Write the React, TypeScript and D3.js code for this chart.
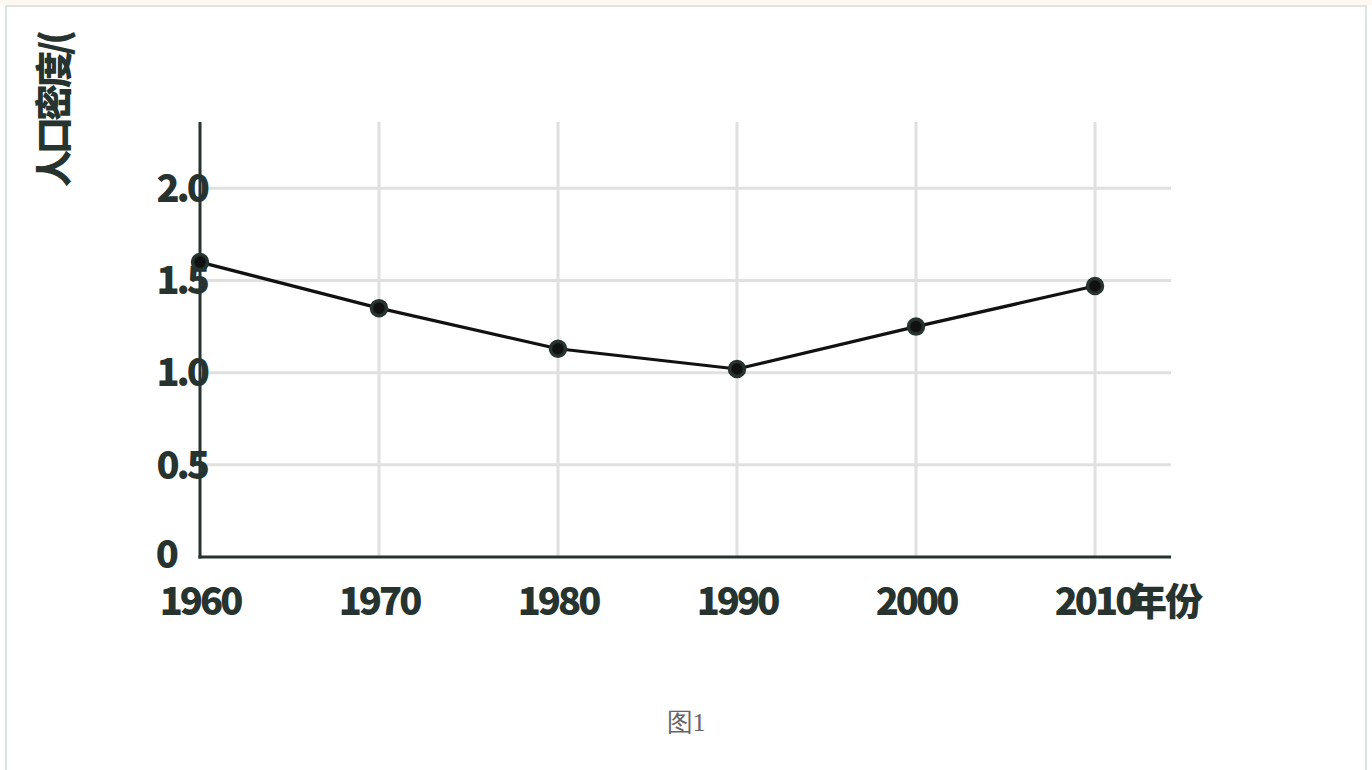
import { scaleLinear, line } from "d3";

const years = [1960, 1970, 1980, 1990, 2000, 2010];
const density = [1.6, 1.35, 1.13, 1.02, 1.25, 1.47];
const yTicks = [0, 0.5, 1.0, 1.5, 2.0];
const yTickLabels = ["0", "0.5", "1.0", "1.5", "2.0"];
const yTitle = "人口密度/(";
const xUnit = "年份";
const caption = "图1";

const dark = "#26332e";
const grid = "#e0e0e0";
const labelFont = "'Noto Sans CJK SC', 'Noto Sans', sans-serif";

export default function App() {
  const width = 1372;
  const height = 770;
  const x = scaleLinear().domain([1960, 2010]).range([200, 1095]);
  const y = scaleLinear().domain([0, 2.36]).range([557, 122]);
  const xEnd = x(2014.25);
  const path = line<number>()
    .x((_, i) => x(years[i]))
    .y((d) => y(d))(density);

  return (
    <>
      <style>{"body{margin:0}"}</style>
      <svg width={width} height={height} style={{ display: "block", background: "#fff" }}>
        <rect x={0} y={0} width={width} height={5} fill="#fdf9f0" />
        <rect x={6} y={6} width={width - 12} height={height + 10} fill="#fff" stroke="#dbe5e1" strokeWidth={2} />

        {yTicks.filter((t) => t > 0).map((t) => (
          <line key={t} x1={x(1960)} x2={xEnd} y1={y(t)} y2={y(t)} stroke={grid} strokeWidth={3} />
        ))}
        {years.slice(1).map((yr) => (
          <line key={yr} x1={x(yr)} x2={x(yr)} y1={y(2.36)} y2={y(0)} stroke={grid} strokeWidth={3} />
        ))}

        <line x1={x(1960)} x2={x(1960)} y1={y(2.36)} y2={y(0) + 1.5} stroke={dark} strokeWidth={3} />
        <line x1={x(1960) - 1.5} x2={xEnd} y1={y(0)} y2={y(0)} stroke={dark} strokeWidth={3} />

        {yTicks.map((t, i) => (
          <text
            key={t}
            x={t === 0 ? x(1960) - 24 : x(1960) + 7}
            y={y(t)}
            dy={t === 0 ? "0.3em" : "0.36em"}
            textAnchor="end"
            fontFamily={labelFont}
            fontWeight={900}
            fontSize={38}
            letterSpacing={-3}
            fill={dark}
          >
            {yTickLabels[i]}
          </text>
        ))}

        {years.map((yr) => (
          <text
            key={yr}
            x={x(yr)}
            y={601}
            dy="0.36em"
            textAnchor="middle"
            fontFamily={labelFont}
            fontWeight={900}
            fontSize={38}
            letterSpacing={-3}
            fill={dark}
          >
            {yr}
          </text>
        ))}
        <text
          x={x(2010) + 34}
          y={601}
          dy="0.36em"
          textAnchor="start"
          fontFamily={labelFont}
          fontWeight={900}
          fontSize={38}
          letterSpacing={-2}
          fill={dark}
        >
          {xUnit}
        </text>

        <text
          transform="translate(55,187) rotate(-90)"
          dy="0.36em"
          textAnchor="start"
          fontFamily={labelFont}
          fontWeight={900}
          fontSize={37}
          letterSpacing={-4}
          fill={dark}
        >
          {yTitle}
        </text>

        <path d={path ?? ""} fill="none" stroke="#111" strokeWidth={3.2} />
        {density.map((d, i) => (
          <circle key={i} cx={x(years[i])} cy={y(d)} r={7.5} fill="#111" stroke={dark} strokeWidth={3.5} />
        ))}

        <text x={686} y={722} dy="0.36em" textAnchor="middle" fontFamily="serif" fontSize={26} fill="#666">
          {caption}
        </text>
      </svg>
    </>
  );
}
